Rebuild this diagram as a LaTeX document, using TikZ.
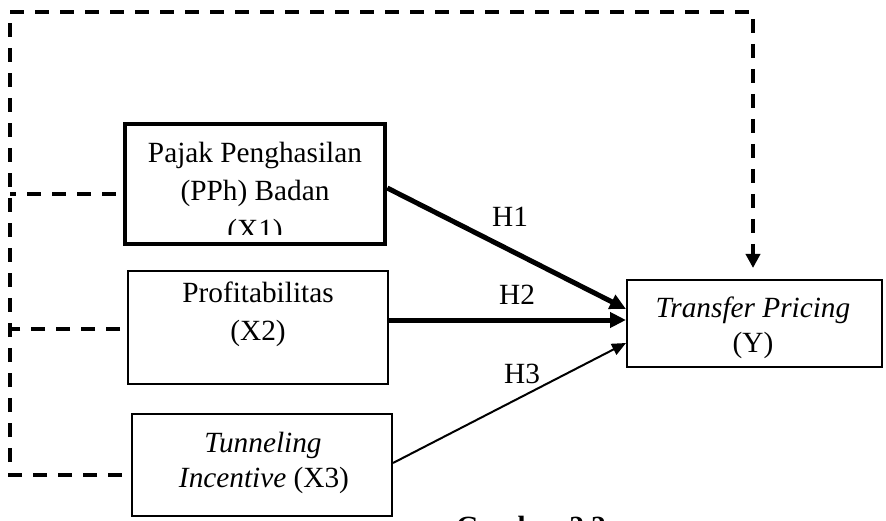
\documentclass[tikz,border=0pt]{standalone}
\usepackage{fontspec}
\setmainfont{Liberation Serif}
\usetikzlibrary{arrows.meta,calc}
\begin{document}
\begin{tikzpicture}[x=1pt,y=-1pt,
  txt/.style={font=\fontsize{29.3}{35}\selectfont, anchor=base, inner sep=0pt},
  boxnode/.style={draw, inner sep=0pt, minimum width=#1},
  thickarrow/.style={line width=5pt, -{Triangle[length=16pt,width=15pt]}},
  thinarrow/.style={line width=2pt, -{Triangle[length=14pt,width=12pt]}},
  dashline/.style={line width=3.5pt, dash pattern=on 14pt off 11pt}]
\useasboundingbox (0,0) rectangle (886,521);

% boxes
\node[boxnode=260pt, line width=4.5pt, minimum height=120pt] (X1) at (255,184) {};
\node[boxnode=260pt, line width=2pt, minimum height=113pt] (X2) at (258,327.5) {};
\node[boxnode=260pt, line width=2pt, minimum height=102pt] (X3) at (262,465) {};
\node[boxnode=255pt, line width=2pt, minimum height=87pt] (Y) at (754.5,323.5) {};

% texts
\node[txt] (t1a) at (255,163) {Pajak Penghasilan};
\node[txt] (t1b) at (255,201) {(PPh) Badan};
\begin{scope}
\clip (125,124) rectangle (385,235);
\node[txt] (t1c) at (255,240) {(X1)};
\end{scope}
\node[txt] (t2a) at (258,303) {Profitabilitas};
\node[txt] (t2b) at (258,341) {(X2)};
\node[txt] (t3a) at (263,452) {\textit{Tunneling}};
\node[txt] (t3b) at (264,487) {\textit{Incentive} (X3)};
\node[txt] (tya) at (753,317) {\textit{Transfer Pricing}};
\node[txt] (tyb) at (753,352) {(Y)};

% hypothesis arrows
\draw[thickarrow] ([yshift=-4pt]X1.east) -- ([yshift=14.5pt]Y.west);
\draw[thickarrow] ([yshift=7.5pt]X2.east) -- ([yshift=3.5pt]Y.west);
\draw[thinarrow] ([yshift=2pt]X3.east) -- ([yshift=-19.5pt]Y.west);
\node[txt] (H1) at (510,227) {H1};
\node[txt] (H2) at (517,305) {H2};
\node[txt] (H3) at (522,383) {H3};

% dashed frame
\coordinate (bl) at (10,475);
\coordinate (tl) at (10,12);
\coordinate (tr) at (753,12);
\coordinate (b1) at (10,194);
\coordinate (b2) at (10,329);
\draw[dashline, -{Triangle[length=14pt,width=14pt]}]
  ([xshift=-9pt]X3.west |- bl) -- (bl) -- (tl) -- (tr) -- ([yshift=11pt]Y.north -| tr);
\draw[dashline] ([xshift=-7pt]X1.west |- b1) -- (b1);
\draw[dashline] ([xshift=-7pt]X2.west |- b2) -- (b2);

% caption (cut off at the lower edge, as in the reference)
\node[txt, font=\fontsize{29.3}{35}\selectfont\bfseries] (cap) at (531,536) {Gambar 2.2};
\end{tikzpicture}
\end{document}
